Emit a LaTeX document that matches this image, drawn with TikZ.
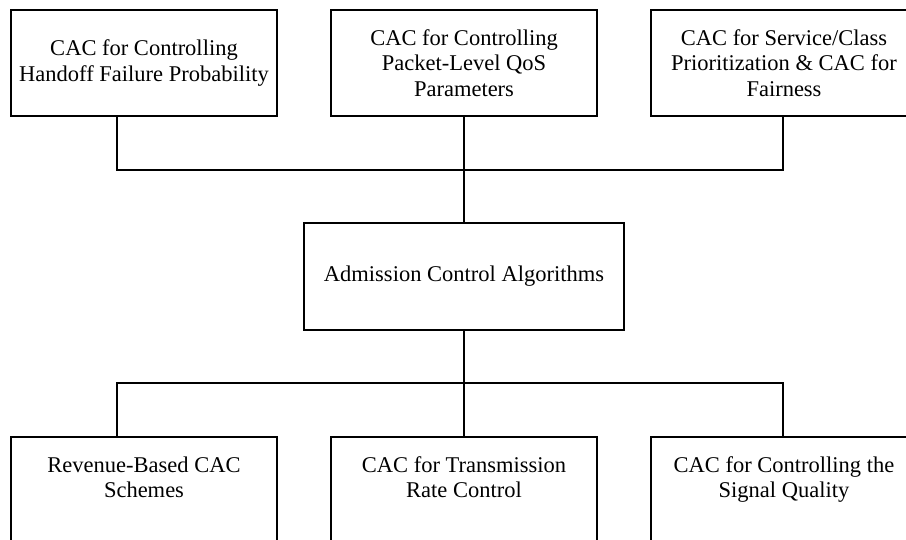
\documentclass[tikz,border=0pt]{standalone}
\usepackage{fontspec}
\setmainfont{Liberation Serif}
\begin{document}
\begin{tikzpicture}[x=1pt,y=-1pt,
  box/.style={draw, line width=1.2pt, rectangle, minimum width=266pt, minimum height=106pt, align=center, inner sep=0pt, font=\fontsize{22.5}{25.5}\selectfont},
  conn/.style={draw, line width=1.2pt}]
\useasboundingbox (0,0) rectangle (906,540);
\clip (0,0) rectangle (906,540);
\node[box] (tl) at (144,63) {CAC for Controlling\\Handoff Failure Probability};
\node[box] (tm) at (464,63) {CAC for Controlling\\Packet-Level QoS\\Parameters};
\node[box] (tr) at (784,63) {CAC for Service/Class\\Prioritization \& CAC for\\Fairness};
\node[box, minimum width=320pt, minimum height=107pt] (mid) at (464,276.5) {Admission Control Algorithms};
\node[box] (bl) at (144,490) {Revenue-Based CAC\\Schemes\\ \mbox{}};
\node[box] (bm) at (464,490) {CAC for Transmission\\Rate Control\\ \mbox{}};
\node[box] (br) at (784,490) {CAC for Controlling the\\Signal Quality\\ \mbox{}};
\coordinate (b1) at (464,170);
\coordinate (b2) at (464,383);
\draw[conn] ([xshift=-27pt]tl.south) |- (b1) -| ([xshift=-1pt]tr.south);
\draw[conn] (tm.south) -- (mid.north);
\draw[conn] (mid.south) -- (bm.north);
\draw[conn] ([xshift=-27pt]bl.north) |- (b2) -| ([xshift=-1pt]br.north);
\end{tikzpicture}
\end{document}
